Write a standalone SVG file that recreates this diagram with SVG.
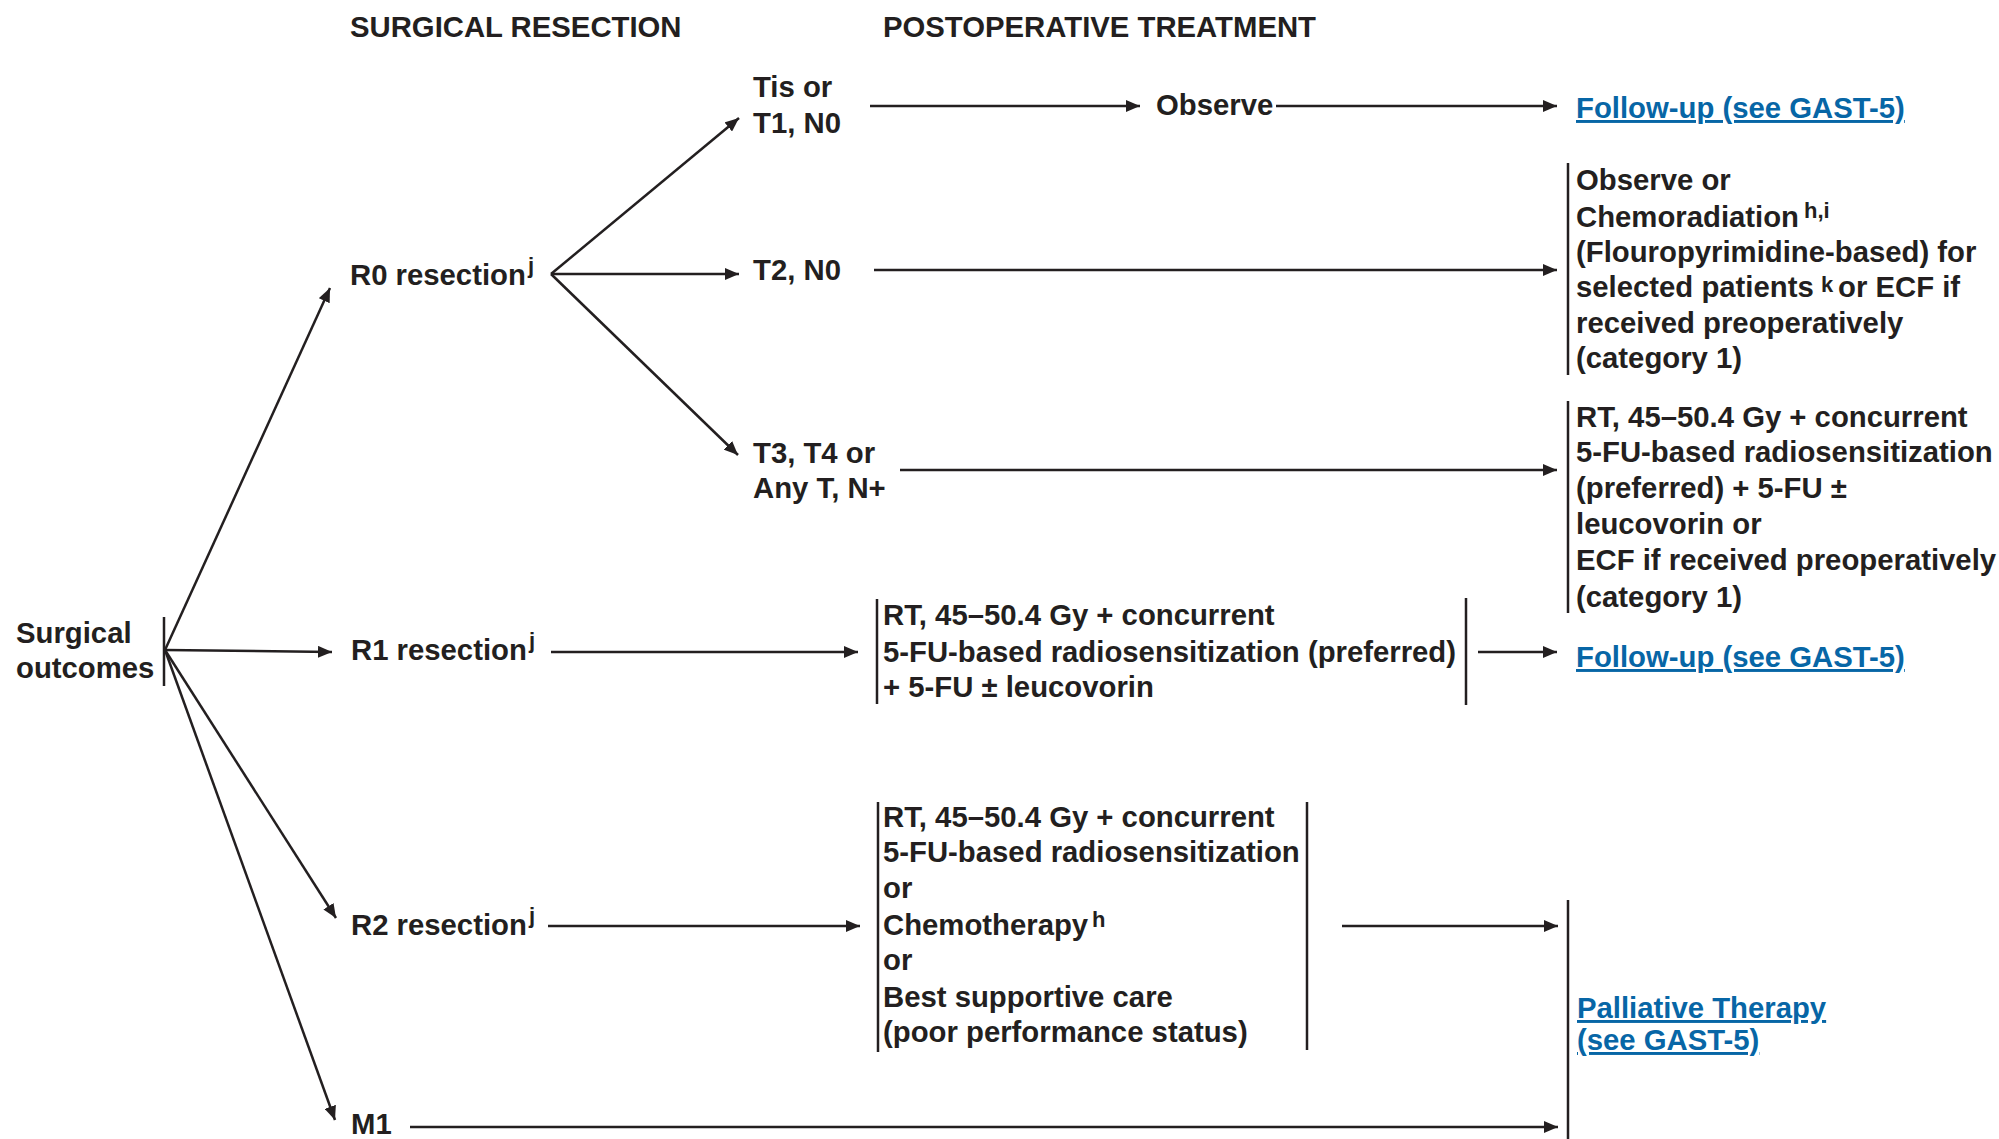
<svg xmlns="http://www.w3.org/2000/svg" width="1999" height="1139" viewBox="0 0 1999 1139">
<style>
text{font-family:"Liberation Sans",Arial,sans-serif;font-weight:bold;font-size:29.3px;fill:#231f20}
.sup{font-size:22px}
.link{fill:#0766a6;text-decoration:underline}
.c{stroke:#231f20;stroke-width:2.5;fill:none}
.bar{stroke:#231f20;stroke-width:2.5}
.a{marker-end:url(#ah)}
</style>
<defs>
<marker id="ah" markerUnits="userSpaceOnUse" markerWidth="15" markerHeight="12" refX="14" refY="6" orient="auto">
<path d="M0,0 L14,6 L0,12 z" fill="#231f20"/>
</marker>
</defs>
<rect width="1999" height="1139" fill="#fff"/>
<g id="headers">
<text x="350" y="37">SURGICAL RESECTION</text>
<text x="883" y="37">POSTOPERATIVE TREATMENT</text>
</g>
<g id="connectors">
<line class="c a" x1="165" y1="650" x2="330" y2="288"/>
<line class="c a" x1="165" y1="650" x2="332" y2="652"/>
<line class="c a" x1="165" y1="650" x2="336" y2="918"/>
<line class="c a" x1="165" y1="650" x2="335" y2="1120"/>
<line class="c a" x1="551" y1="274" x2="739" y2="118"/>
<line class="c a" x1="551" y1="274" x2="739" y2="274"/>
<line class="c a" x1="551" y1="274" x2="738" y2="455"/>
<line class="c a" x1="870" y1="106" x2="1140" y2="106"/>
<line class="c a" x1="1276" y1="106" x2="1557" y2="106"/>
<line class="c a" x1="874" y1="270" x2="1557" y2="270"/>
<line class="c a" x1="900" y1="470" x2="1557" y2="470"/>
<line class="c a" x1="551" y1="652" x2="858" y2="652"/>
<line class="c a" x1="1478" y1="652" x2="1557" y2="652"/>
<line class="c a" x1="548" y1="926" x2="860" y2="926"/>
<line class="c a" x1="1342" y1="926" x2="1558" y2="926"/>
<line class="c a" x1="410" y1="1127" x2="1558" y2="1127"/>
</g>
<g id="surgical-outcomes">
<text x="16" y="643">Surgical</text>
<text x="16" y="678">outcomes</text>
<line class="bar" x1="164" y1="617" x2="164" y2="686"/>
</g>
<g id="r0">
<text x="350" y="285">R0 resection<tspan class="sup" x="528" y="273">j</tspan></text>
</g>
<g id="r1">
<text x="351" y="660">R1 resection<tspan class="sup" x="529" y="648">j</tspan></text>
</g>
<g id="r2">
<text x="351" y="935">R2 resection<tspan class="sup" x="529" y="923">j</tspan></text>
</g>
<g id="m1">
<text x="351" y="1134">M1</text>
</g>
<g id="tis">
<text x="753" y="97">Tis or</text>
<text x="753" y="133">T1, N0</text>
</g>
<g id="t2">
<text x="753" y="280">T2, N0</text>
</g>
<g id="t3">
<text x="753" y="463">T3, T4 or</text>
<text x="753" y="498">Any T, N+</text>
</g>
<g id="observe">
<text x="1156" y="115">Observe</text>
</g>
<g id="followup1">
<text class="link" x="1576" y="118">Follow-up (see GAST-5)</text>
</g>
<g id="t2-treatment">
<line class="bar" x1="1568" y1="163" x2="1568" y2="375"/>
<text x="1576" y="190">Observe or</text>
<text x="1576" y="227">Chemoradiation<tspan class="sup" x="1804" y="218">h,i</tspan></text>
<text x="1576" y="262">(Flouropyrimidine-based) for</text>
<text x="1576" y="297">selected patients<tspan class="sup" x="1821" y="292">k</tspan><tspan x="1838" y="297">or ECF if</tspan></text>
<text x="1576" y="333">received preoperatively</text>
<text x="1576" y="368">(category 1)</text>
</g>
<g id="t3-treatment">
<line class="bar" x1="1568" y1="401" x2="1568" y2="613"/>
<text x="1576" y="427">RT, 45–50.4 Gy + concurrent</text>
<text x="1576" y="462">5-FU-based radiosensitization</text>
<text x="1576" y="498">(preferred) + 5-FU ±</text>
<text x="1576" y="534">leucovorin or</text>
<text x="1576" y="570">ECF if received preoperatively</text>
<text x="1576" y="607">(category 1)</text>
</g>
<g id="r1-treatment">
<line class="bar" x1="877" y1="599" x2="877" y2="704"/>
<line class="bar" x1="1466" y1="598" x2="1466" y2="705"/>
<text x="883" y="625">RT, 45–50.4 Gy + concurrent</text>
<text x="883" y="662">5-FU-based radiosensitization (preferred)</text>
<text x="883" y="697">+ 5-FU ± leucovorin</text>
</g>
<g id="followup2">
<text class="link" x="1576" y="667">Follow-up (see GAST-5)</text>
</g>
<g id="r2-treatment">
<line class="bar" x1="878" y1="802" x2="878" y2="1052"/>
<line class="bar" x1="1307" y1="802" x2="1307" y2="1050"/>
<text x="883" y="827">RT, 45–50.4 Gy + concurrent</text>
<text x="883" y="862">5-FU-based radiosensitization</text>
<text x="883" y="898">or</text>
<text x="883" y="935">Chemotherapy<tspan class="sup" x="1092" y="927">h</tspan></text>
<text x="883" y="970">or</text>
<text x="883" y="1007">Best supportive care</text>
<text x="883" y="1042">(poor performance status)</text>
</g>
<g id="palliative">
<line class="bar" x1="1568" y1="900" x2="1568" y2="1139"/>
<text class="link" x="1577" y="1018">Palliative Therapy</text>
<text class="link" x="1577" y="1050">(see GAST-5)</text>
</g>
</svg>
